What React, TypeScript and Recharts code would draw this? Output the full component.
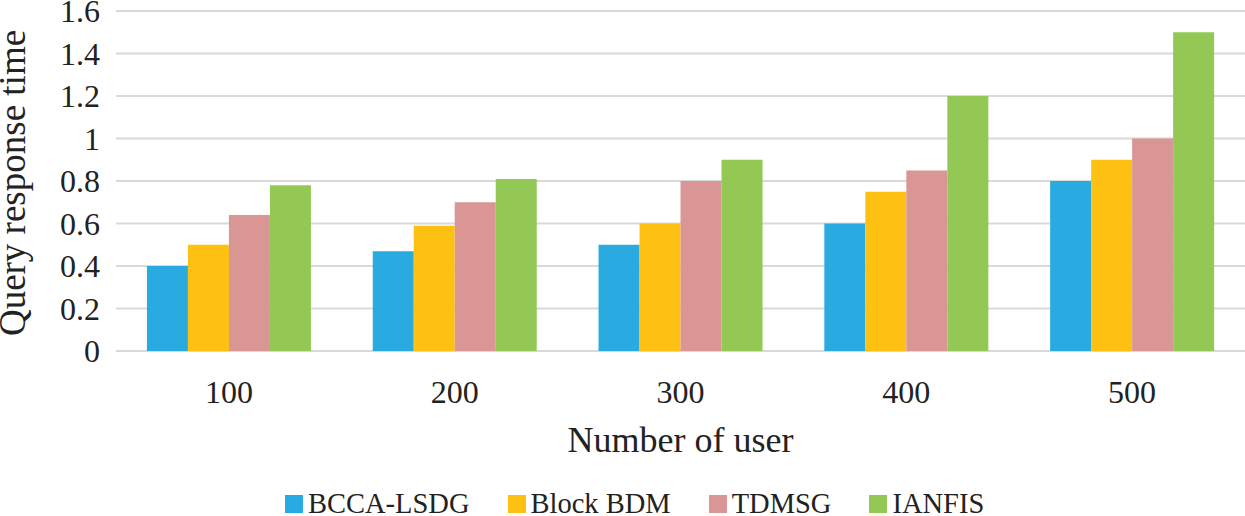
import React from 'react';
import { BarChart, Bar, XAxis, YAxis, CartesianGrid, Label } from 'recharts';

const users = ['100', '200', '300', '400', '500'];
const bccaLsdg = [0.4, 0.47, 0.5, 0.6, 0.8];
const blockBdm = [0.5, 0.59, 0.6, 0.75, 0.9];
const tdmsg = [0.64, 0.7, 0.8, 0.85, 1.0];
const ianfis = [0.78, 0.81, 0.9, 1.2, 1.5];
const yTicks = [0, 0.2, 0.4, 0.6, 0.8, 1, 1.2, 1.4, 1.6];

const SERIES = [
  { key: 'bcca', name: 'BCCA-LSDG', values: bccaLsdg, color: '#29ABE2' },
  { key: 'block', name: 'Block BDM', values: blockBdm, color: '#FFC111' },
  { key: 'tdmsg', name: 'TDMSG', values: tdmsg, color: '#D99694' },
  { key: 'ianfis', name: 'IANFIS', values: ianfis, color: '#92C853' },
];

const FONT = "'Liberation Serif', 'DejaVu Serif', serif";

const App: React.FC = () => {
  const data = users.map((u, i) => {
    const row: Record<string, string | number> = { user: u };
    SERIES.forEach((s) => {
      row[s.key] = s.values[i];
    });
    return row;
  });

  return (
    <div style={{ position: 'absolute', left: 0, top: 0, width: 1245, height: 516, background: '#fff', fontFamily: FONT }}>
      <BarChart
        width={1245}
        height={516}
        data={data}
        margin={{ top: 11, right: 0, left: 0, bottom: 0 }}
        barCategoryGap="13.7%"
        barGap={0}
        style={{ fontFamily: FONT }}
      >
        <CartesianGrid vertical={false} stroke="#d9d9d9" strokeWidth={2} />
        <XAxis
          dataKey="user"
          height={165}
          axisLine={false}
          tickLine={false}
          tickSize={0}
          tickMargin={29}
          interval={0}
          tick={{ fontFamily: FONT, fontSize: 32, fill: '#222' }}
        >
          <Label
            content={({ viewBox }: any) => (
              <text
                x={viewBox.x + viewBox.width / 2}
                y={452}
                textAnchor="middle"
                style={{ fontFamily: FONT, fontSize: 36 }}
                fill="#222"
              >
                Number of user
              </text>
            )}
          />
        </XAxis>
        <YAxis
          width={116}
          domain={[0, 1.6]}
          ticks={yTicks}
          interval={0}
          axisLine={false}
          tickLine={false}
          tickSize={0}
          tickMargin={16}
          tick={{ fontFamily: FONT, fontSize: 32, fill: '#222' }}
        >
          <Label
            content={({ viewBox }: any) => {
              const cy = viewBox.y + viewBox.height / 2 + 2;
              return (
                <text
                  x={25}
                  y={cy}
                  transform={`rotate(-90, 25, ${cy})`}
                  textAnchor="middle"
                  style={{ fontFamily: FONT, fontSize: 37 }}
                  fill="#222"
                >
                  Query response time
                </text>
              );
            }}
          />
        </YAxis>
        {SERIES.map((s) => (
          <Bar key={s.key} dataKey={s.key} name={s.name} fill={s.color} isAnimationActive={false} />
        ))}
      </BarChart>
      <div
        style={{
          position: 'absolute',
          left: 285,
          top: 490,
          display: 'flex',
          alignItems: 'center',
          fontFamily: FONT,
          fontSize: 28.5,
          lineHeight: '28.5px',
          color: '#222',
          whiteSpace: 'nowrap',
        }}
      >
        {SERIES.map((s, i) => (
          <div key={s.key} style={{ display: 'flex', alignItems: 'center', marginLeft: i === 0 ? 0 : 38 }}>
            <span style={{ display: 'inline-block', width: 18, height: 18, background: s.color, marginRight: 5 }} />
            <span>{s.name}</span>
          </div>
        ))}
      </div>
    </div>
  );
};

export default App;
